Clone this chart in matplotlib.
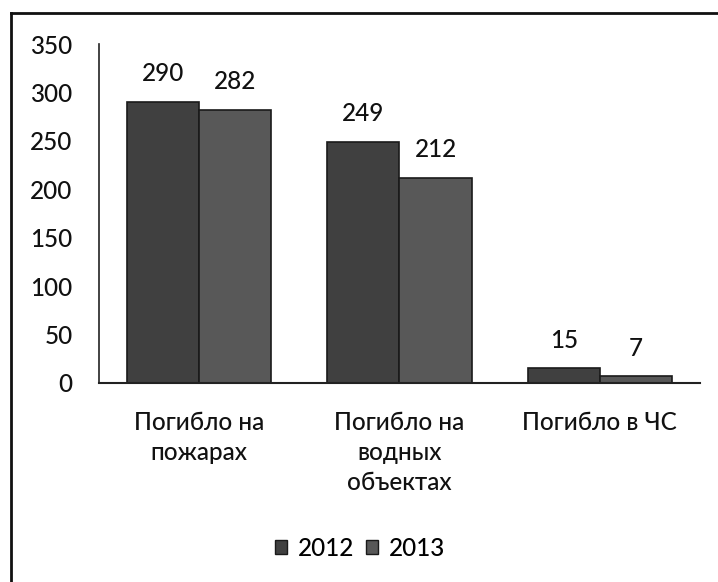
import matplotlib
matplotlib.use("Agg")
import matplotlib.pyplot as plt
import numpy as np
from matplotlib.lines import Line2D
from matplotlib.patches import Patch

plt.rcParams['font.family'] = ['Lato', 'DejaVu Sans']

categories = ["Погибло на\nпожарах", "Погибло на\nводных\nобъектах", "Погибло в ЧС"]
series_names = ["2012", "2013"]
values_2012 = [290, 249, 15]
values_2013 = [282, 212, 7]
yticks = [0, 50, 100, 150, 200, 250, 300, 350]

W, H = 718, 582
fig = plt.figure(figsize=(W / 100, H / 100), dpi=100)
fig.patch.set_facecolor('white')

ax = fig.add_axes([99 / W, 1 - 383 / H, (700 - 99) / W, (383 - 44) / H])

FS = 17.5
TC = '#111111'
x = np.arange(len(categories))
bw = 0.36
colors = ['#404040', '#585858']
b1 = ax.bar(x - bw / 2, values_2012, bw, color=colors[0], edgecolor='#1a1a1a', linewidth=1.2, zorder=2)
b2 = ax.bar(x + bw / 2, values_2013, bw, color=colors[1], edgecolor='#1a1a1a', linewidth=1.2, zorder=2)

for bars, vals in ((b1, values_2012), (b2, values_2013)):
    for r, v in zip(bars, vals):
        ax.annotate(str(v), (r.get_x() + r.get_width() / 2, v), xytext=(0, 12),
                    textcoords='offset points', ha='center', va='bottom',
                    fontsize=FS, color=TC, fontweight='medium')

ax.set_xlim(-0.5, len(categories) - 0.5)
ax.set_ylim(0, 350)
ax.set_yticks(yticks)
ax.set_yticklabels([str(t) for t in yticks], fontsize=FS, color=TC, fontweight='medium')
ax.set_xticks(x)
ax.set_xticklabels(categories, fontsize=FS, color=TC, linespacing=1.37, va='top', fontweight='medium')
ax.tick_params(axis='y', length=0, pad=19)
ax.tick_params(axis='x', length=0, pad=20)
for s in ('top', 'right'):
    ax.spines[s].set_visible(False)
ax.spines['left'].set_color('#222222')
ax.spines['bottom'].set_color('#222222')
ax.spines['left'].set_linewidth(1.2)
ax.spines['bottom'].set_linewidth(1.5)

handles = [Patch(facecolor=colors[0], edgecolor='#1a1a1a'), Patch(facecolor=colors[1], edgecolor='#1a1a1a')]
fig.legend(handles, series_names, loc='center', bbox_to_anchor=(360 / W, 1 - 548 / H),
           ncol=2, frameon=False, prop={'size': FS, 'weight': 'medium'},
           handlelength=0.5, handleheight=0.5, handletextpad=0.45, columnspacing=0.5)

# frame lines (left and top)
fig.add_artist(Line2D([11 / W, 11 / W], [0, 1 - 13 / H], color='#111111', linewidth=2))
fig.add_artist(Line2D([11 / W, 1], [1 - 13 / H, 1 - 13 / H], color='#111111', linewidth=2))

fig.savefig("out.png", dpi=100, facecolor='white')
